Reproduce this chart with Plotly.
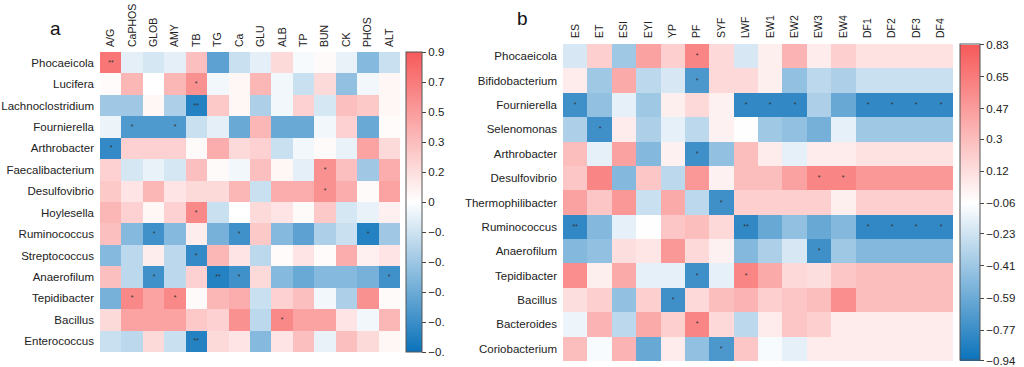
import plotly.graph_objects as go

# ---------------- Panel a data ----------------
a_cols = ["A/G", "CaPHOS", "GLOB", "AMY", "TB", "TG", "Ca", "GLU", "ALB", "TP", "BUN", "CK", "PHOS", "ALT"]
a_rows = ["Phocaeicola", "Lucifera", "Lachnoclostridium", "Fournierella", "Arthrobacter",
          "Faecalibacterium", "Desulfovibrio", "Hoylesella", "Ruminococcus", "Streptococcus",
          "Anaerofilum", "Tepidibacter", "Bacillus", "Enterococcus"]
a_phocaeicola = [0.75, -0.1, -0.15, -0.1, 0.35, -0.6, -0.2, -0.1, 0.2, -0.03, 0.03, -0.08, -0.45, -0.2]
a_lucifera = [0.02, 0.4, 0.0, 0.4, 0.6, -0.05, 0.05, 0.4, -0.05, -0.2, 0.2, -0.4, -0.05, 0.05]
a_lachnoclostridium = [-0.35, -0.35, 0.05, -0.3, -0.8, 0.3, 0.05, -0.3, -0.05, 0.25, -0.15, 0.35, 0.3, 0.05]
a_fournierella = [-0.07, -0.65, -0.65, -0.65, -0.2, -0.1, -0.55, 0.4, -0.55, -0.55, -0.05, 0.25, -0.55, 0.02]
a_arthrobacter = [-0.75, 0.25, 0.25, 0.25, 0.03, 0.45, 0.2, 0.25, -0.2, -0.05, 0.03, -0.08, 0.5, 0.2]
a_faecalibacterium = [0.25, -0.15, -0.08, -0.15, 0.35, 0.03, -0.05, 0.35, 0.05, -0.1, 0.6, 0.35, -0.35, 0.45]
a_desulfovibrio = [0.3, 0.15, 0.4, 0.15, 0.2, 0.2, 0.4, -0.2, 0.45, 0.45, 0.6, 0.45, 0.03, 0.5]
a_hoylesella = [0.4, 0.25, 0.05, 0.25, 0.65, -0.2, 0.0, 0.2, 0.15, 0.03, 0.3, -0.15, -0.08, 0.08]
a_ruminococcus = [0.35, -0.45, -0.7, -0.45, 0.1, -0.5, -0.7, 0.3, -0.45, -0.6, -0.3, -0.2, -0.8, -0.35]
a_streptococcus = [-0.45, -0.25, 0.1, -0.25, -0.75, 0.4, 0.15, -0.25, 0.02, 0.15, 0.02, 0.45, 0.08, 0.15]
a_anaerofilum = [0.35, -0.25, -0.7, -0.25, 0.25, -0.8, -0.7, 0.2, -0.45, -0.55, -0.45, -0.45, -0.5, -0.7]
a_tepidibacter = [-0.5, 0.65, 0.5, 0.65, 0.03, 0.4, 0.45, -0.2, 0.25, 0.35, -0.05, -0.3, 0.6, 0.03]
a_bacillus = [0.2, 0.5, 0.5, 0.5, 0.3, 0.25, 0.6, -0.25, 0.65, 0.5, 0.5, 0.15, -0.05, 0.4]
a_enterococcus = [-0.2, -0.25, 0.2, -0.2, -0.8, 0.2, 0.15, -0.45, 0.15, 0.35, -0.08, 0.35, 0.2, 0.05]
a_values = [a_phocaeicola, a_lucifera, a_lachnoclostridium, a_fournierella, a_arthrobacter,
            a_faecalibacterium, a_desulfovibrio, a_hoylesella, a_ruminococcus, a_streptococcus,
            a_anaerofilum, a_tepidibacter, a_bacillus, a_enterococcus]
a_sig = {
    "Phocaeicola": {"A/G": "**"},
    "Lucifera": {"TB": "*"},
    "Lachnoclostridium": {"TB": "**"},
    "Fournierella": {"CaPHOS": "*", "AMY": "*"},
    "Arthrobacter": {"A/G": "*"},
    "Faecalibacterium": {"BUN": "*"},
    "Desulfovibrio": {"BUN": "*"},
    "Hoylesella": {"TB": "*"},
    "Ruminococcus": {"GLOB": "*", "Ca": "*", "PHOS": "*"},
    "Streptococcus": {"TB": "*"},
    "Anaerofilum": {"GLOB": "*", "TG": "**", "Ca": "*", "ALT": "*"},
    "Tepidibacter": {"CaPHOS": "*", "AMY": "*"},
    "Bacillus": {"ALB": "*"},
    "Enterococcus": {"TB": "**"},
}
a_zmin, a_zmax = -0.9, 0.9
a_tickvals = [0.9, 0.72, 0.54, 0.36, 0.18, 0.0, -0.18, -0.36, -0.54, -0.72, -0.9]
a_ticktext = ["0.9", "0.7", "0.5", "0.3", "0.2", "0", "\u22120.", "\u22120.", "\u22120.", "\u22120.", "\u22120."]

# ---------------- Panel b data ----------------
b_cols = ["ES", "ET", "ESI", "EYI", "YP", "PF", "SYF", "LWF", "EW1", "EW2", "EW3", "EW4", "DF1", "DF2", "DF3", "DF4"]
b_rows = ["Phocaeicola", "Bifidobacterium", "Fournierella", "Selenomonas", "Arthrobacter",
          "Desulfovibrio", "Thermophilibacter", "Ruminococcus", "Anaerofilum", "Tepidibacter",
          "Bacillus", "Bacteroides", "Coriobacterium"]
b_phocaeicola = [-0.2, 0.2, -0.4, 0.45, 0.2, 0.6, 0.15, -0.2, 0.03, 0.35, 0.05, 0.2, 0.1, 0.1, 0.1, 0.1]
b_bifidobacterium = [0.05, -0.4, 0.4, -0.3, -0.2, -0.7, 0.15, 0.15, 0.03, -0.45, -0.3, -0.35, -0.25, -0.25, -0.25, -0.25]
b_fournierella = [-0.75, -0.45, -0.15, -0.4, 0.03, 0.15, 0.02, -0.8, -0.8, -0.8, -0.35, -0.6, -0.8, -0.8, -0.8, -0.8]
b_selenomonas = [-0.35, -0.75, 0.05, -0.35, -0.15, -0.3, 0.02, -0.05, -0.4, -0.45, -0.55, -0.15, -0.4, -0.4, -0.4, -0.4]
b_arthrobacter = [0.3, -0.15, 0.45, -0.5, 0.02, -0.75, -0.45, 0.3, 0.05, -0.15, 0.05, 0.05, 0.1, 0.1, 0.1, 0.1]
b_desulfovibrio = [0.25, 0.6, -0.5, 0.25, -0.3, 0.5, 0.02, 0.3, 0.3, 0.45, 0.6, 0.6, 0.5, 0.5, 0.5, 0.5]
b_thermophilibacter = [0.45, 0.25, 0.5, -0.25, 0.4, -0.3, -0.75, 0.2, 0.2, 0.2, 0.2, 0.03, 0.2, 0.2, 0.2, 0.2]
b_ruminococcus = [-0.8, -0.5, -0.15, -0.05, 0.25, 0.3, 0.15, -0.8, -0.6, -0.45, -0.6, -0.5, -0.8, -0.8, -0.8, -0.8]
b_anaerofilum = [-0.5, -0.45, 0.12, 0.08, 0.5, 0.15, 0.02, -0.5, -0.35, -0.2, -0.75, -0.4, -0.5, -0.5, -0.5, -0.5]
b_tepidibacter = [0.55, 0.03, 0.4, -0.15, -0.15, -0.75, -0.15, 0.6, 0.4, 0.15, 0.12, 0.25, 0.3, 0.3, 0.3, 0.3]
b_bacillus = [0.12, 0.2, -0.45, 0.2, -0.75, 0.15, 0.3, 0.35, 0.2, 0.25, 0.3, 0.55, 0.3, 0.3, 0.3, 0.3]
b_bacteroides = [-0.12, 0.35, -0.3, 0.4, 0.2, 0.6, 0.15, -0.3, 0.05, 0.25, 0.2, 0.05, 0.05, 0.05, 0.05, 0.05]
b_coriobacterium = [0.3, -0.08, 0.35, -0.6, 0.05, -0.45, -0.7, 0.25, -0.08, -0.15, 0.05, 0.05, 0.05, 0.05, 0.05, 0.05]
b_values = [b_phocaeicola, b_bifidobacterium, b_fournierella, b_selenomonas, b_arthrobacter,
            b_desulfovibrio, b_thermophilibacter, b_ruminococcus, b_anaerofilum, b_tepidibacter,
            b_bacillus, b_bacteroides, b_coriobacterium]
b_sig = {
    "Phocaeicola": {"PF": "*"},
    "Bifidobacterium": {"PF": "*"},
    "Fournierella": {"ES": "*", "LWF": "*", "EW1": "*", "EW2": "*", "DF1": "*", "DF2": "*", "DF3": "*", "DF4": "*"},
    "Selenomonas": {"ET": "*"},
    "Arthrobacter": {"PF": "*"},
    "Desulfovibrio": {"EW3": "*", "EW4": "*"},
    "Thermophilibacter": {"SYF": "*"},
    "Ruminococcus": {"ES": "**", "LWF": "**", "DF1": "*", "DF2": "*", "DF3": "*", "DF4": "*"},
    "Anaerofilum": {"EW3": "*"},
    "Tepidibacter": {"PF": "*", "LWF": "*"},
    "Bacillus": {"YP": "*"},
    "Bacteroides": {"PF": "*"},
    "Coriobacterium": {"SYF": "*"},
}
b_zmin, b_zmax = -0.94, 0.83
b_tickvals = [0.83, 0.65, 0.47, 0.3, 0.12, -0.06, -0.23, -0.41, -0.59, -0.77, -0.94]
b_ticktext = ["0.83", "0.65", "0.47", "0.3", "0.12", "\u22120.06", "\u22120.23", "\u22120.41", "\u22120.59", "\u22120.77", "\u22120.94"]

# ---------------- Figure ----------------
W, H = 1024, 367
FONT = "Arial, Liberation Sans, Helvetica, sans-serif"
TXT = "#222222"
colorscale = [[0.0, "#0A72BA"], [0.5, "#FFFFFF"], [1.0, "#F75A5A"]]


def sig_matrix(rows, cols, sig):
    return [[sig.get(r, {}).get(c, "") for c in cols] for r in rows]


def px_x(p):
    return p / W


def px_y(p):
    return 1 - p / H


fig = go.Figure()

fig.add_trace(go.Heatmap(
    z=a_values, x=a_cols, y=a_rows,
    text=sig_matrix(a_rows, a_cols, a_sig), texttemplate="%{text}",
    textfont=dict(size=7, color="#333333", family=FONT),
    colorscale=colorscale, zmin=a_zmin, zmax=a_zmax,
    xaxis="x", yaxis="y", hoverinfo="skip",
    colorbar=dict(
        xref="container", yref="container",
        x=px_x(406), xanchor="left", xpad=0, ypad=0,
        y=px_y(202), yanchor="middle", len=300, lenmode="pixels", thickness=16,
        outlinecolor="#555555", outlinewidth=1,
        tickvals=a_tickvals, ticktext=a_ticktext, ticks="outside", ticklen=4,
        tickcolor="#444444", tickfont=dict(size=11.5, color=TXT, family=FONT),
    ),
))

fig.add_trace(go.Heatmap(
    z=b_values, x=b_cols, y=b_rows,
    text=sig_matrix(b_rows, b_cols, b_sig), texttemplate="%{text}",
    textfont=dict(size=7, color="#333333", family=FONT),
    colorscale=colorscale, zmin=b_zmin, zmax=b_zmax,
    xaxis="x2", yaxis="y2", hoverinfo="skip",
    colorbar=dict(
        xref="container", yref="container",
        x=px_x(960), xanchor="left", xpad=0, ypad=0,
        y=px_y(202.5), yanchor="middle", len=316, lenmode="pixels", thickness=20,
        outlinecolor="#555555", outlinewidth=1,
        tickvals=b_tickvals, ticktext=b_ticktext, ticks="outside", ticklen=4,
        tickcolor="#444444", tickfont=dict(size=11.5, color=TXT, family=FONT),
    ),
))

axis_common = dict(showgrid=False, zeroline=False, showline=False, ticks="", automargin=False)

fig.update_layout(
    width=W, height=H,
    margin=dict(l=0, r=0, t=0, b=0, autoexpand=False),
    paper_bgcolor="white", plot_bgcolor="white",
    font=dict(family=FONT, color=TXT),
    xaxis=dict(domain=[px_x(100), px_x(400)], anchor="y", side="top", tickangle=-90,
               tickfont=dict(size=10.5), ticklabelstandoff=4, **axis_common),
    yaxis=dict(domain=[px_y(352), px_y(52)], anchor="x", autorange="reversed",
               tickfont=dict(size=11.5), ticklabelstandoff=5, **axis_common),
    xaxis2=dict(domain=[px_x(563), px_x(953)], anchor="y2", side="top", tickangle=-90,
                tickfont=dict(size=10.5), ticklabelstandoff=5, **axis_common),
    yaxis2=dict(domain=[px_y(361), px_y(44)], anchor="x2", autorange="reversed",
                tickfont=dict(size=11.5), ticklabelstandoff=5, **axis_common),
    annotations=[
        dict(text="a", x=px_x(55), y=px_y(28), xref="paper", yref="paper",
             showarrow=False, font=dict(size=19, color="#111111", family=FONT),
             xanchor="center", yanchor="middle"),
        dict(text="b", x=px_x(522), y=px_y(18), xref="paper", yref="paper",
             showarrow=False, font=dict(size=19, color="#111111", family=FONT),
             xanchor="center", yanchor="middle"),
    ],
    showlegend=False,
)

fig.write_html(
    "out.html",
    config={"displayModeBar": False},
    post_script="document.body.style.margin='0';document.body.style.overflow='hidden';",
)
